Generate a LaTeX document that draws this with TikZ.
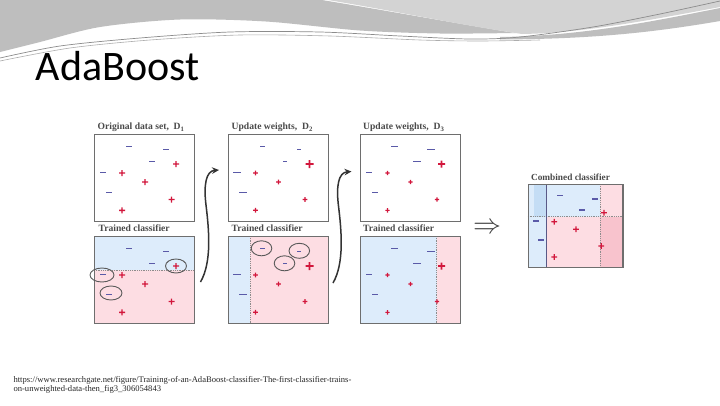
\documentclass[tikz,border=0pt]{standalone}
\usepackage{fontspec}
\setmainfont{Liberation Serif}
\newfontfamily\titlefont{Carlito}
\usetikzlibrary{arrows.meta}
\definecolor{hdrmid}{HTML}{BEBEBE}
\definecolor{hdrlight}{HTML}{D3D3D3}
\definecolor{bordc}{HTML}{6E6E6E}
\definecolor{regblue}{HTML}{DDECFB}
\definecolor{regblue2}{HTML}{C4DDF5}
\definecolor{regpink}{HTML}{FDDDE3}
\definecolor{regpink2}{HTML}{F8C3CD}
\definecolor{mnc}{HTML}{5A5AA8}
\definecolor{plc}{HTML}{D2173C}
\definecolor{ttl}{HTML}{4A4A4A}
\newcommand\mn[3]{\fill[mnc] ({#1-#3/2},{#2-#3/9}) rectangle ({#1+#3/2},{#2+#3/9});}
\newcommand\pl[3]{\fill[plc] ({#1-#3/2},{#2-#3/8.4}) rectangle ({#1+#3/2},{#2+#3/8.4}) ({#1-#3/8.4},{#2-#3/2}) rectangle ({#1+#3/8.4},{#2+#3/2});}
% sizes: A,B,C minus | D plus | E,H minus | F,G,I,J plus
\newcommand\pointset[4]{%
  \mn{35}{12.5}{#1}\mn{71.5}{15.5}{#1}\mn{57.5}{27.5}{#1}%
  \pl{82}{30}{#2}%
  \mn{9}{38.5}{#3}\mn{15.4}{58.5}{#3}%
  \pl{28}{39}{#4}\pl{51}{48}{#4}\pl{77.5}{65.5}{#4}\pl{28}{76.3}{#4}}
\tikzset{
  panel/.style={draw=bordc, line width=1.2pt, minimum width=100pt, inner sep=0pt, anchor=north west, fill=none},
  ptitle/.style={font=\fontsize{9.6}{11}\selectfont\bfseries, text=ttl, inner sep=0pt, anchor=base west},
  divider/.style={draw=black!45, line width=0.8pt, densely dotted},
  ring/.style={draw=black!65, line width=0.9pt},
  curvarr/.style={draw=black!80, line width=1.5pt, -{Stealth[length=7pt,width=6.5pt]}},
  srcfont/.style={font=\fontsize{8.6}{10}\selectfont, text=black!85, inner sep=0pt, anchor=base west}
}
\begin{document}
\begin{tikzpicture}[x=1pt,y=-1pt]
\useasboundingbox (0,0) rectangle (720,405);
\fill[white] (0,0) rectangle (720,405);
% ---------- header swoosh ----------
\fill[hdrmid] (0,0) -- (322,0) .. controls (400,13) and (460,24) .. (515,33)
  -- plot[smooth] coordinates {(515,33) (440,33.5) (360,30.5) (266,21.5) (180,19.5) (100,27) (40,42) (0,52)} -- cycle;
\fill[hdrlight] (328,0) -- (720,0) -- (720,7) .. controls (640,22) and (580,33) .. (522,34)
  .. controls (460,25) and (395,11) .. (328,0) -- cycle;
\fill[hdrmid] (500,37) .. controls (580,36) and (650,22) .. (720,8) -- (720,21)
  .. controls (650,33) and (590,39) .. (500,39.5) -- cycle;
\draw[black!45, line width=0.7pt] plot[smooth] coordinates {(0,58) (60,46) (140,38) (230,32) (320,32) (400,36) (470,39) (520,37) (593,27) (660,14) (720,1)};
\draw[black!32, line width=0.6pt] plot[smooth] coordinates {(0,61) (70,48) (150,40) (240,35) (330,36) (420,40) (480,41) (540,40)};
% ---------- title ----------
\node[font=\titlefont\fontsize{42}{44}\selectfont, inner sep=0pt, anchor=base west] (title) at (35.5,80.5) {AdaBoost};
% ---------- region fills ----------
\fill[regblue] (94,236) rectangle (194,270);
\fill[regpink] (94,270) rectangle (194,322.5);
\fill[regblue] (227.5,236) rectangle (250,322.5);
\fill[regpink] (250,236) rectangle (327.5,322.5);
\fill[regblue] (359.5,236) rectangle (436.7,322.5);
\fill[regpink] (436.7,236) rectangle (459.5,322.5);
\fill[regblue] (527.7,184) rectangle (546,266.7);
\fill[regblue2] (534,184) rectangle (546,216.7);
\fill[regblue] (546,184) rectangle (600.3,216.7);
\fill[regpink] (546,216.7) rectangle (600.3,266.7);
\fill[regpink] (600.3,184) rectangle (622.3,216.7);
\fill[regpink2] (600.3,216.7) rectangle (622.3,266.7);
\draw[divider] (94,270) -- (194,270);
\draw[divider] (250,236) -- (250,322.5);
\draw[divider] (436.7,236) -- (436.7,322.5);
\draw[divider] (527.7,216.7) -- (622.3,216.7);
\draw[black!40!blue!30!gray, line width=0.7pt] (546,184) -- (546,266.7);
\draw[divider] (600.3,184) -- (600.3,266.7);
% ---------- panels ----------
\node[panel, minimum height=87pt] (p1t) at (94,134) {};
\node[panel, minimum height=86.5pt] (p1b) at (94,236) {};
\node[panel, minimum height=87pt] (p2t) at (227.5,134) {};
\node[panel, minimum height=86.5pt] (p2b) at (227.5,236) {};
\node[panel, minimum height=87pt] (p3t) at (359.5,134) {};
\node[panel, minimum height=86.5pt] (p3b) at (359.5,236) {};
\node[panel, minimum width=94.6pt, minimum height=82.7pt] (pc) at (527.7,184) {};
% ---------- panel titles ----------
\node[ptitle] (t1t) at (97.5,129.5) {Original data set,\ \ D\textsubscript{1}};
\node[ptitle] (t2t) at (231.5,129.5) {Update weights,\ \ D\textsubscript{2}};
\node[ptitle] (t3t) at (363,129.5) {Update weights,\ \ D\textsubscript{3}};
\node[ptitle] (t1b) at (98.5,231.5) {Trained classifier};
\node[ptitle] (t2b) at (231.5,231.5) {Trained classifier};
\node[ptitle] (t3b) at (363,231.5) {Trained classifier};
\node[ptitle, font=\fontsize{9.3}{11}\selectfont\bfseries, anchor=base] (tc) at (570.5,180) {Combined classifier};
% ---------- data points ----------
\begin{scope}[shift={(94,134)}]\pointset{6}{6}{6}{6}\end{scope}
\begin{scope}[shift={(94,236)}]\pointset{6}{6}{6}{6}\end{scope}
\begin{scope}[shift={(227.5,134)}]\pointset{4.7}{8}{8}{4.7}\end{scope}
\begin{scope}[shift={(227.5,236)}]\pointset{4.7}{8}{8}{4.7}\end{scope}
\begin{scope}[shift={(359.5,134)}]\pointset{7.5}{7}{6}{4.4}\end{scope}
\begin{scope}[shift={(359.5,236)}]\pointset{7.5}{7}{6}{4.4}\end{scope}
\mn{560}{195.7}{5.8}\mn{595}{199}{5.8}\mn{582.3}{210}{5.8}\mn{536}{221}{5.8}\mn{541.3}{240}{5.8}
\pl{604}{212.7}{5.8}\pl{554.3}{221.7}{5.8}\pl{576}{229.3}{5.8}\pl{601.3}{246}{5.8}\pl{554.3}{257}{5.8}
% ---------- circled mistakes ----------
\draw[ring] (176,266) ellipse [x radius=10.5pt, y radius=7pt];
\draw[ring] (102,275) ellipse [x radius=12pt, y radius=7pt];
\draw[ring] (111,293) ellipse [x radius=11pt, y radius=7pt];
\draw[ring] (261.5,248.3) ellipse [x radius=10.3pt, y radius=7.5pt];
\draw[ring] (299.3,250.8) ellipse [x radius=10.3pt, y radius=7.5pt];
\draw[ring] (284.5,263.3) ellipse [x radius=10.3pt, y radius=7.5pt];
% ---------- curved arrows ----------
\coordinate (a1s) at (200.5,282);
\coordinate (a1e) at (219,170);
\coordinate (a2s) at (333,283);
\coordinate (a2e) at (351.5,171.5);
\draw[curvarr] (a1s) .. controls (212,262) and (209,230) .. (206,205) .. controls (203.5,185) and (206,171) .. (a1e);
\draw[curvarr] (a2s) .. controls (344.5,263) and (341.5,231) .. (338.5,206) .. controls (336,186) and (338.5,172.5) .. (a2e);
% ---------- implies arrow ----------
\node[inner sep=0pt, text=black!75] (imp) at (487,228) {\scalebox{2.8}{$\Rightarrow$}};
% ---------- source ----------
\node[srcfont] (src1) at (13.3,382) {https://www.researchgate.net/figure/Training-of-an-AdaBoost-classifier-The-first-classifier-trains-};
\node[srcfont] (src2) at (13.3,391.5) {on-unweighted-data-then\_fig3\_306054843};
\end{tikzpicture}
\end{document}
